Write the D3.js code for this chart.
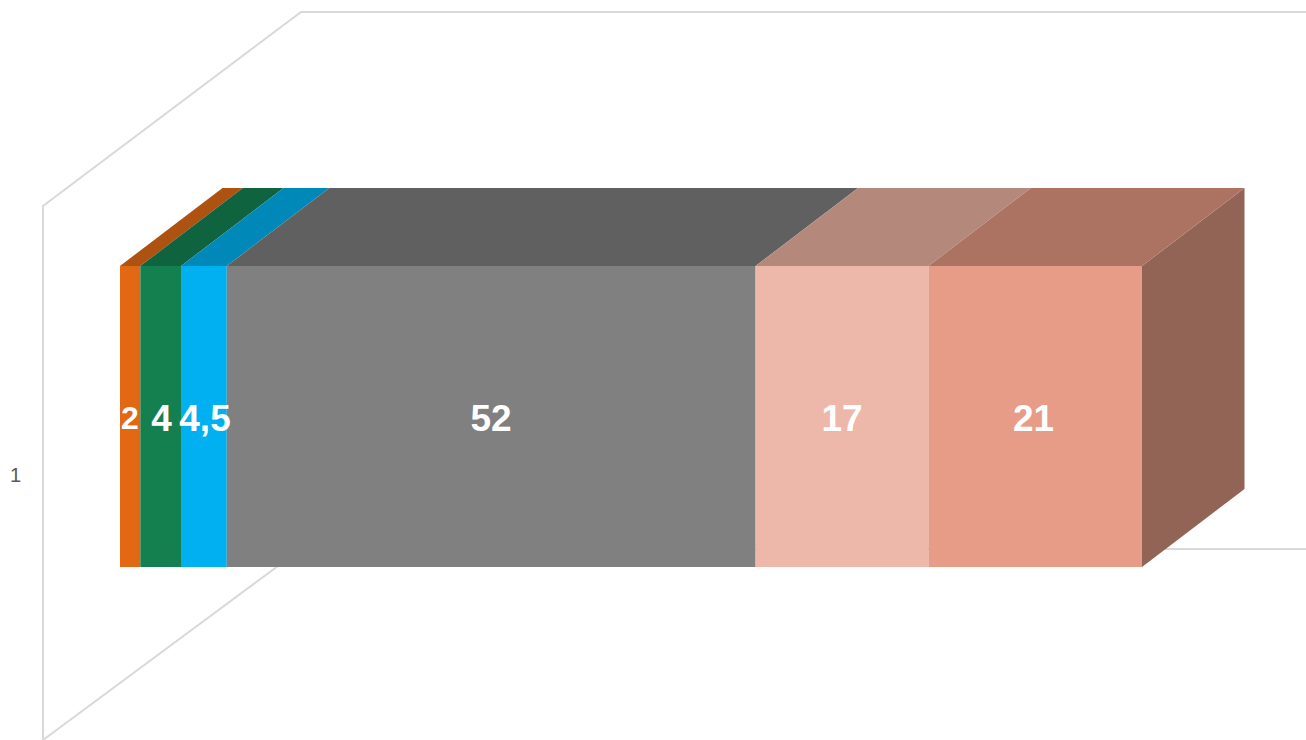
<!DOCTYPE html>
<html><head><meta charset="utf-8">
<script src="https://cdn.jsdelivr.net/npm/d3@7"></script>
<style>html,body{margin:0;padding:0;background:#fff;overflow:hidden}svg{display:block}</style>
</head><body><div id="c"></div>
<script>
const categories = ["1"];
const values = [2, 4, 4.5, 52, 17, 21];
const valueLabels = ["2", "4", "4,5", "52", "17", "21"];
const frontColors = ["#E26814", "#148050", "#00B0F0", "#808080", "#EDB8A9", "#E79C87"];
const topColors = ["#AD5210", "#0F633E", "#0088B8", "#606060", "#B5887C", "#AD7362"];
const sideColor = "#926456";
const labelSizes = [32, 37, 37, 37, 37, 37];
const labelCenters = [130, 161.5, 205, 491, 842, 1033.5];

const W = 1306, H = 740;
const svg = d3.select("#c").append("svg").attr("width", W).attr("height", H);
const total = d3.sum(values);
const x = d3.scaleLinear().domain([0, total]).range([120, 1142]);
const yFront = {top: 266, bottom: 567};
const depth = {dx: 102.5, dy: -78};
const cum = d3.cumsum(values);
const segs = values.map((v, i) => ({v, i, x0: x(cum[i] - v), x1: x(cum[i])}));

// walls
const wall = svg.append("g").attr("fill", "none").attr("stroke", "#D9D9D9").attr("stroke-width", 2);
const line = d3.line();
wall.append("path").attr("d", line([[1306, 12], [301, 12], [43, 206], [43, 740]]));
wall.append("path").attr("d", line([[43, 740], [301, 549], [1306, 549]]));

// axis label
const yAxis = d3.scaleBand().domain(categories).range([266 + 40, 567 + 77]);
svg.append("text").text(categories[0]).attr("x", 15.5).attr("y", yAxis(categories[0]) + yAxis.bandwidth() / 2)
  .attr("text-anchor", "middle").attr("dominant-baseline", "central")
  .attr("font-family", "Liberation Sans").attr("font-size", 20).attr("fill", "#595959");

// right side
svg.append("path").attr("fill", sideColor).attr("d", line([
  [x(total), yFront.top], [x(total) + depth.dx, yFront.top + depth.dy],
  [x(total) + depth.dx, yFront.bottom + depth.dy], [x(total), yFront.bottom]]) + "Z");

// tops
svg.append("g").selectAll("path").data(segs).join("path")
  .attr("fill", d => topColors[d.i])
  .attr("d", d => line([[d.x0, yFront.top], [d.x0 + depth.dx, yFront.top + depth.dy],
                        [d.x1 + depth.dx, yFront.top + depth.dy], [d.x1, yFront.top]]) + "Z");

// fronts
svg.append("g").selectAll("rect").data(segs).join("rect")
  .attr("x", d => d.x0).attr("y", yFront.top)
  .attr("width", d => d.x1 - d.x0).attr("height", yFront.bottom - yFront.top)
  .attr("fill", d => frontColors[d.i]);

// labels
svg.append("g").selectAll("text").data(segs).join("text")
  .text(d => valueLabels[d.i])
  .attr("x", d => labelCenters[d.i]).attr("y", d => d.i === 0 ? 429 : 431)
  .attr("text-anchor", "middle")
  .attr("font-family", "Liberation Sans").attr("font-weight", "bold")
  .attr("font-size", d => labelSizes[d.i]).attr("fill", "#fff");
</script></body></html>
